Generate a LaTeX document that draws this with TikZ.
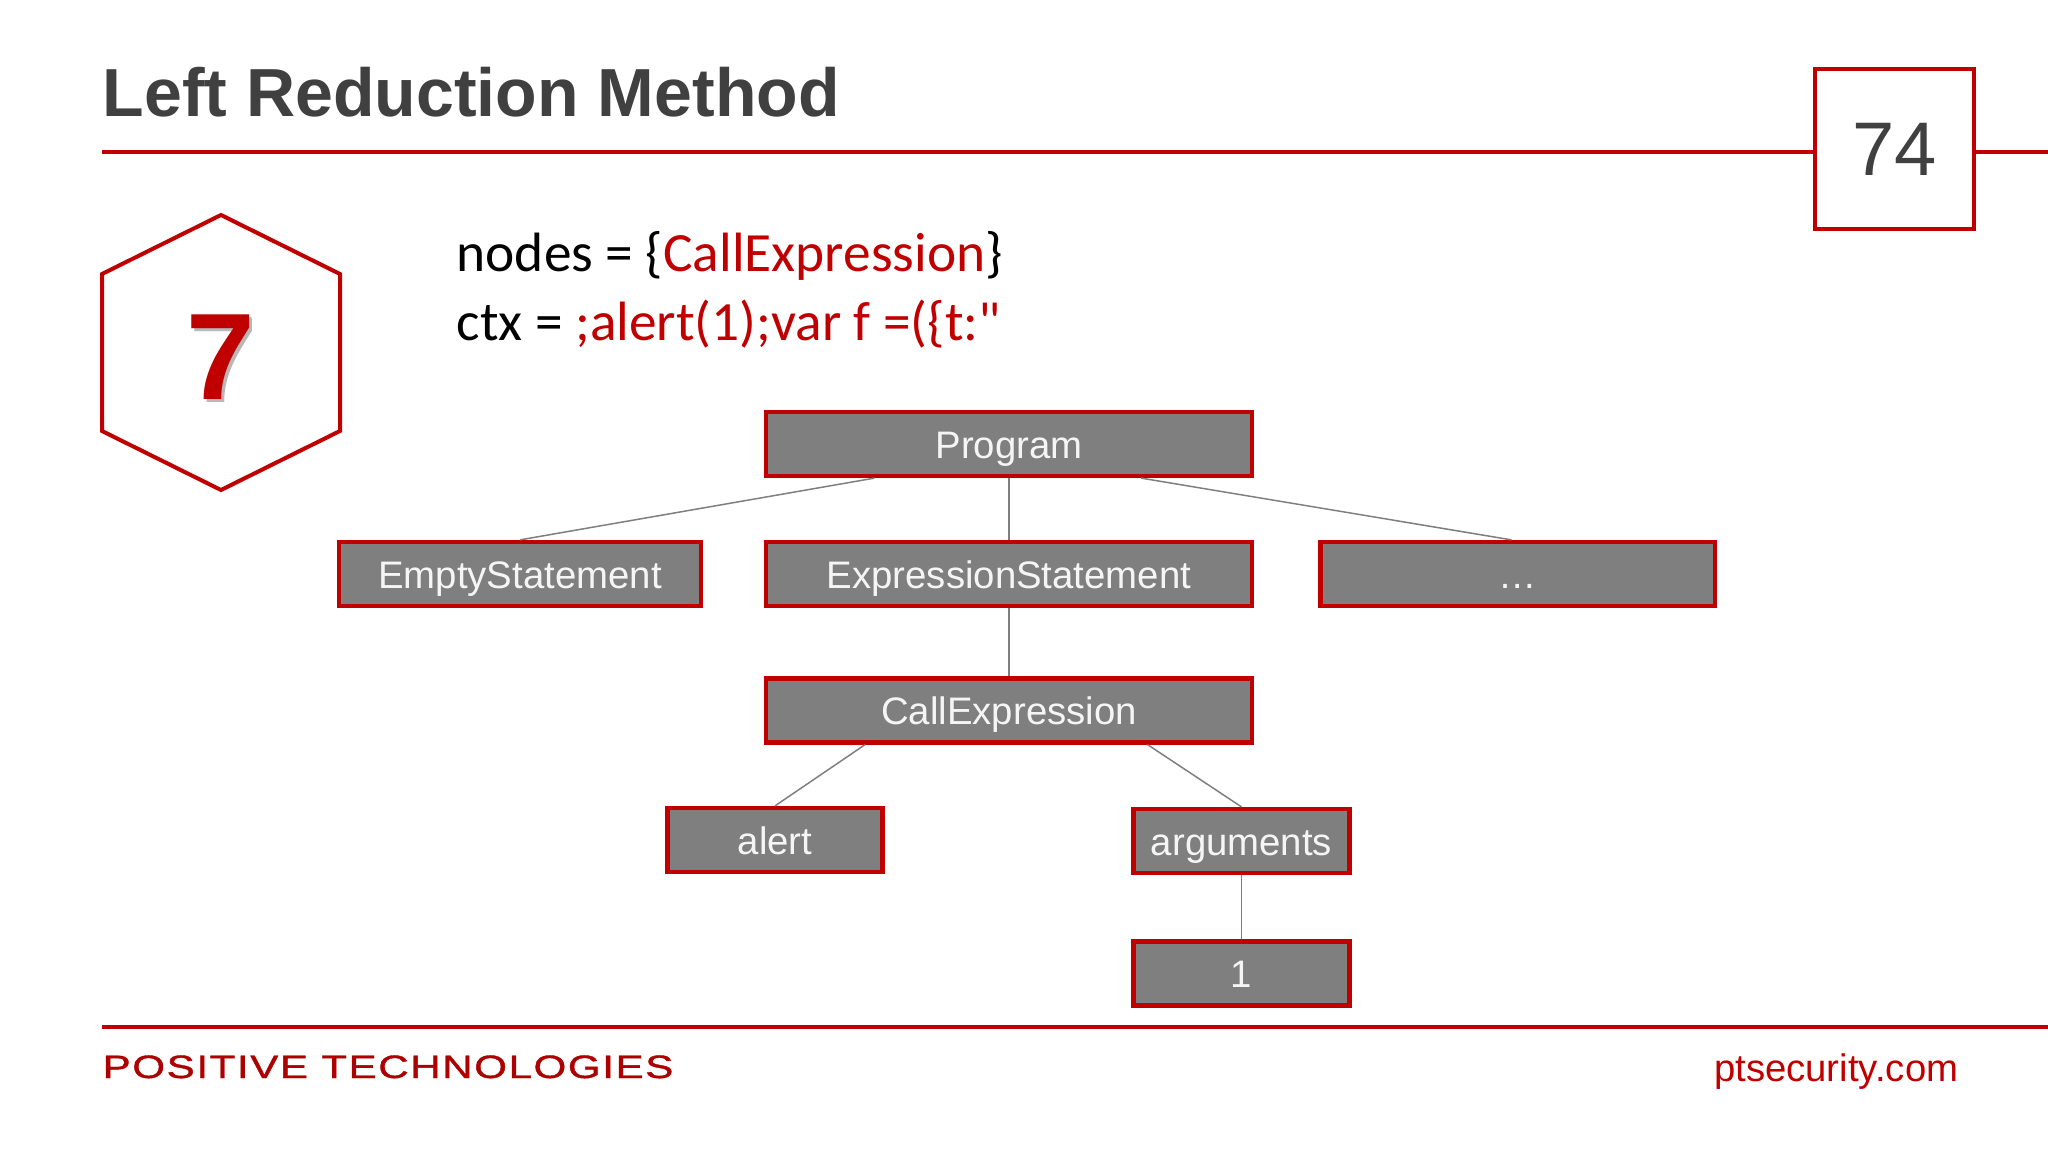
\documentclass[tikz,border=0pt]{standalone}
\usepackage{fontspec}
\setmainfont{Liberation Sans}
\newfontfamily\calibrifont{Carlito}
\newfontfamily\brandfont[FakeStretch=1.3,LetterSpace=5,FakeBold=1.2]{Liberation Sans}
\usetikzlibrary{positioning, calc}
\definecolor{ptred}{HTML}{C00000}
\definecolor{ptgray}{HTML}{7F7F7F}
\definecolor{ptdark}{HTML}{404040}

\begin{document}
\begin{tikzpicture}[x=0.01cm, y=-0.01cm,
      treebox/.style={rectangle, draw=ptred, line width=0.042cm, fill=ptgray, text=white!96!black, minimum height=0.64cm, inner sep=0pt, text height=0.31cm, text depth=0.03cm, font=\fontsize{10.9pt}{13pt}\selectfont},
      link/.style={draw=ptgray, line width=0.015cm},
      rule/.style={draw=ptred, line width=0.04cm},
      codeline/.style={anchor=base west, inner sep=0pt, font=\calibrifont\fontsize{15.75pt}{18pt}\selectfont}
    ]
      \useasboundingbox (0,0) rectangle (2048,1152);

      % header
      \node[anchor=base west, inner sep=0pt, text=ptdark, font=\bfseries\fontsize{19.35pt}{24pt}\selectfont] (title) at (102,117) {Left Reduction Method};
      \node[draw=ptred, line width=0.04cm, minimum size=1.59cm, text=ptdark, font=\fontsize{21.6pt}{27pt}\selectfont] (page) at (1894.5,149) {\raisebox{-2.7pt}{74}};
      \coordinate (headstart) at (102,152);
      \coordinate (headend) at (2048,152);
      \draw[rule] (headstart) -- (headstart -| page.west);
      \draw[rule] (headstart -| page.east) -- (headend);

      % step number
      \draw[draw=ptred, line width=0.04cm, line join=miter] (221,215) -- (340,274) -- (340,431) -- (221,490) -- (102,431) -- (102,274) -- cycle;
      \node[text=black!28, font=\bfseries\fontsize{35pt}{40pt}\selectfont] (stepshadow) at (224,360) {7};
      \node[text=ptred, font=\bfseries\fontsize{35pt}{40pt}\selectfont] (stepnum) at (221,357) {7};

      % state
      \node[codeline] (nodesline) at (456,272) {nodes = \{\textcolor{ptred}{CallExpression}\}};
      \node[codeline] (ctxline) at (456,341) {ctx = \textcolor{ptred}{;alert(1);var f =(\{t:"}};

      % tree
      \node[treebox, minimum width=4.85cm] (prog) at (1009,444) {Program};
      \node[treebox, minimum width=3.62cm] (empty) at (520,574) {EmptyStatement};
      \node[treebox, minimum width=4.85cm] (exprst) at (1009,574) {ExpressionStatement};
      \node[treebox, minimum width=3.94cm] (more) at (1517.5,574) {\dots};
      \node[treebox, minimum width=4.85cm] (call) at (1009,710.5) {CallExpression};
      \node[treebox, minimum width=2.15cm] (alert) at (775,840) {alert};
      \node[treebox, minimum width=2.16cm] (args) at (1241.5,841) {arguments};
      \node[treebox, minimum width=2.16cm] (one) at (1241.5,973.5) {1};

      \draw[link] ($(prog.south west)!0.225!(prog.south east)$) -- (empty.north);
      \draw[link] (prog) -- (exprst);
      \draw[link] ($(prog.south west)!0.77!(prog.south east)$) -- ($(more.north)+(-6,0)$);
      \draw[link] (exprst) -- (call);
      \draw[link] ($(call.south west)!0.206!(call.south east)$) -- (alert.north);
      \draw[link] ($(call.south west)!0.783!(call.south east)$) -- (args.north);
      \draw[link] (args) -- (one);

      % footer
      \coordinate (footstart) at (102,1027);
      \coordinate (footend) at (2048,1027);
      \draw[rule] (footstart) -- (footend);
      \node[anchor=base west, inner sep=0pt, text=ptred!90!black, font=\brandfont\fontsize{9.2pt}{12pt}\selectfont] (brand) at (102,1078) {POSITIVE TECHNOLOGIES};
      \node[anchor=base east, inner sep=0pt, text=ptred, font=\fontsize{10.9pt}{13pt}\selectfont] (site) at (1959,1081) {ptsecurity.com};
    \end{tikzpicture}
\end{document}
